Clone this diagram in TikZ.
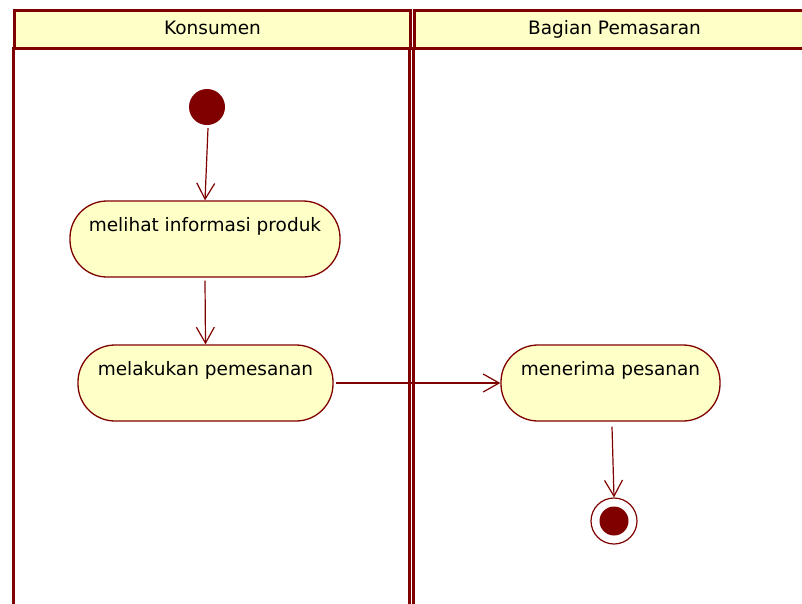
\documentclass[tikz,border=0pt]{standalone}
\usepackage{fontspec}
\setmainfont{DejaVu Sans}
\usetikzlibrary{arrows.meta}
\definecolor{umlred}{RGB}{128,0,0}
\definecolor{umlfill}{RGB}{255,255,200}
\begin{document}
\begin{tikzpicture}[x=1pt,y=-1pt,
  lane/.style={draw=umlred,line width=3pt},
  lanehead/.style={draw=umlred,fill=umlfill,line width=3pt,anchor=north west,inner sep=0pt,
    text height=14pt,text depth=4pt,font=\fontsize{18.5}{22}\selectfont},
  action/.style={draw=umlred,fill=umlfill,line width=1.3pt,rounded corners=37pt,inner sep=0pt,
    text height=12pt,text depth=28pt,font=\fontsize{18.5}{22}\selectfont},
  startnode/.style={circle,fill=umlred,inner sep=0pt,minimum size=36pt},
  endouter/.style={circle,draw=umlred,fill=white,line width=1.2pt,inner sep=0pt,minimum size=46pt},
  endinner/.style={circle,fill=umlred,inner sep=0pt,minimum size=29pt},
  flow/.style={draw=umlred,line width=1.2pt,-{Straight Barb[length=16pt,width=18pt,line width=1.2pt]}}
]
\useasboundingbox (0,0) rectangle (802,603);
\fill[white] (0,0) rectangle (802,603);
% swimlanes
\draw[lane] (13,47) -- (13,610);
\draw[lane] (409,47) -- (409,610);
\draw[lane] (413,47) -- (413,610);
\node[lanehead,minimum width=396pt,minimum height=38pt] (h1) at (13,9) {Konsumen};
\node[lanehead,minimum width=400pt,minimum height=38pt] (h2) at (413,9) {Bagian Pemasaran};
% activity nodes
\node[startnode] (start) at (207,107) {};
\node[action,minimum width=270pt,minimum height=76pt] (a1) at (205,239) {melihat informasi produk};
\node[action,minimum width=255pt,minimum height=76pt] (a2) at (205.5,383) {melakukan pemesanan};
\node[action,minimum width=219pt,minimum height=76pt] (a3) at (610.5,383) {menerima pesanan};
\node[endouter] (final) at (614,521) {};
\node[endinner] (finalin) at (final.center) {};
% control flows
\draw[flow] (start.south) ++(1,3) coordinate (s0) -- (a1.north);
\coordinate (a1b) at ([yshift=-3pt]a1.south);
\draw[flow] (a1b) -- (a2.north);
\coordinate (a2e) at ([xshift=2pt]a2.east);
\draw[flow] (a2e) -- (a3.west);
\coordinate (a3b) at ([xshift=1.5pt,yshift=-5pt]a3.south);
\draw[flow] (a3b) -- (final.north);
\end{tikzpicture}
\end{document}
